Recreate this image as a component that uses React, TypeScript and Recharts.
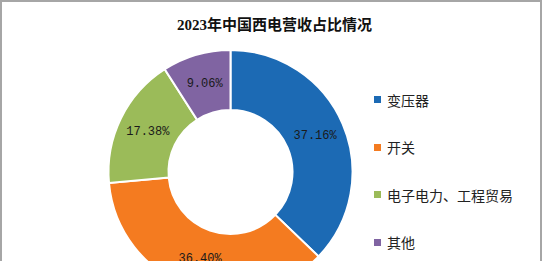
import React from "react";
import { PieChart, Pie, Cell, Legend } from "recharts";

const title = "2023年中国西电营收占比情况";
const categories = ["变压器", "开关", "电子电力、工程贸易", "其他"];
const shares = [37.16, 36.4, 17.38, 9.06];
const colors = ["#1c6ab4", "#f47b20", "#9bbb59", "#8064a2"];

const data = categories.map((name, i) => ({ name, value: shares[i] }));

const RAD = Math.PI / 180;

const renderLabel = (props: any) => {
  const { cx, cy, midAngle, innerRadius, outerRadius, value } = props;
  const r = (innerRadius + outerRadius) / 2;
  const x = cx + r * Math.cos(-midAngle * RAD);
  const y = cy + r * Math.sin(-midAngle * RAD);
  return (
    <text
      x={x}
      y={y}
      textAnchor="middle"
      dominantBaseline="central"
      fill="#1a1a1a"
      fontSize={12}
      fontFamily="'Liberation Mono', monospace"
    >
      {value.toFixed(2)}%
    </text>
  );
};

const renderLegend = () => (
  <div>
    {categories.map((name, i) => (
      <div
        key={name}
        style={{
          height: 47.5,
          display: "flex",
          alignItems: "center",
          fontFamily: "'Noto Sans CJK SC', sans-serif",
          fontSize: 14,
          color: "#222",
        }}
      >
        <span
          style={{
            width: 7,
            height: 7,
            background: colors[i],
            marginRight: 6,
            display: "inline-block",
          }}
        />
        {name}
      </div>
    ))}
  </div>
);

function App() {
  return (
    <div
      style={{
        position: "absolute",
        left: 0,
        top: 0,
        width: 554,
        height: 261,
        background: "#fff",
        overflow: "hidden",
      }}
    >
      <div
        style={{
          position: "absolute",
          left: 0,
          top: 0,
          width: 542,
          height: 300,
          borderTop: "2px solid #a6a6a6",
          borderLeft: "2px solid #a6a6a6",
          borderRight: "2px solid #a6a6a6",
          boxSizing: "border-box",
        }}
      />
      <div
        style={{
          position: "absolute",
          left: 0,
          top: 14,
          width: 549,
          textAlign: "center",
          fontFamily: "'Liberation Serif', 'Noto Sans CJK SC', serif",
          fontWeight: "bold",
          fontSize: 15,
          color: "#111",
          lineHeight: "22px",
        }}
      >
        {title}
      </div>
      <div style={{ position: "absolute", left: 0, top: 0 }}>
        <PieChart width={554} height={261}>
          <Pie
            data={data}
            dataKey="value"
            nameKey="name"
            cx={225.5}
            cy={167}
            innerRadius={62}
            outerRadius={122}
            startAngle={90}
            endAngle={-270}
            stroke="#ffffff"
            strokeWidth={2}
            label={renderLabel}
            labelLine={false}
            isAnimationActive={false}
          >
            {data.map((d, i) => (
              <Cell key={d.name} fill={colors[i]} />
            ))}
          </Pie>
          <Legend
            content={renderLegend}
            layout="vertical"
            wrapperStyle={{ left: 374, top: 76, width: 170 }}
          />
        </PieChart>
      </div>
    </div>
  );
}

export default App;
